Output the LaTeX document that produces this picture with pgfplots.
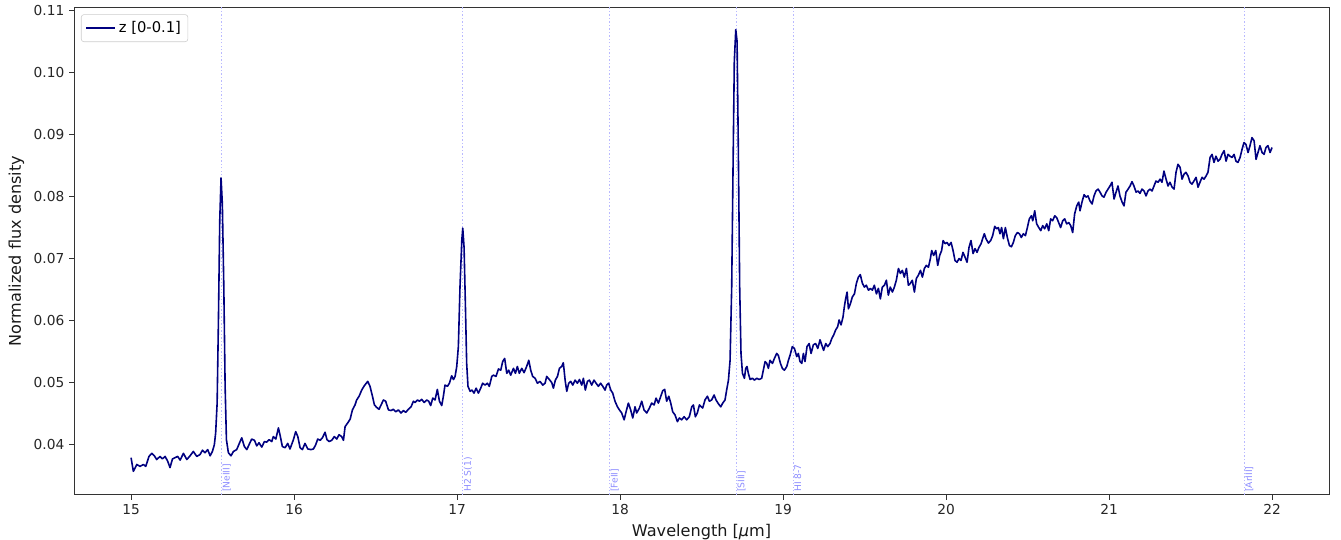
\documentclass[border=0pt]{standalone}
\usepackage{fontspec}
\setmainfont{DejaVu Sans}
\usepackage{pgfplots}
\pgfplotsset{compat=1.18}

\definecolor{specnavy}{RGB}{0,0,128}
\definecolor{featline}{RGB}{185,185,255}
\definecolor{feattext}{RGB}{140,140,255}

\begin{document}
\begin{tikzpicture}
\begin{axis}[
  scale only axis, width=903.6pt, height=351pt,
  xmin=14.65, xmax=22.35, ymin=0.0319, ymax=0.1105,
  xtick={15,16,17,18,19,20,21,22},
  ytick={0.04,0.05,0.06,0.07,0.08,0.09,0.10,0.11},
  scaled y ticks=false,
  yticklabel style={/pgf/number format/.cd, fixed, fixed zerofill, precision=2},
  /pgf/number format/assume math mode=true,
  tick align=outside, tick pos=left,
  major tick length=3.5pt,
  every tick/.style={black!80, line width=0.6pt},
  axis line style={black!80, line width=0.6pt},
  tick label style={font=\fontsize{9.9}{11}\selectfont, black!85},
  label style={font=\fontsize{11.6}{14}\selectfont, black!90},
  xlabel={Wavelength [\textit{μ}m]},
  ylabel={Normalized flux density},
  legend style={at={(0,1)}, anchor=north west, xshift=5pt, yshift=-5pt,
    draw=black!20, rounded corners=2pt, fill=white,
    font=\fontsize{10.6}{12}\selectfont, inner xsep=3pt, inner ysep=3pt},
  legend image code/.code={\draw[#1] (0pt,0pt) -- (21pt,0pt);},
  legend cell align=left,
]

% emission line markers
\addplot[featline, line width=0.7pt, dash pattern=on 1pt off 1.5pt, forget plot] coordinates {(15.555,0.0319) (15.555,0.1105)};
\addplot[featline, line width=0.7pt, dash pattern=on 1pt off 1.5pt, forget plot] coordinates {(17.035,0.0319) (17.035,0.1105)};
\addplot[featline, line width=0.7pt, dash pattern=on 1pt off 1.5pt, forget plot] coordinates {(17.936,0.0319) (17.936,0.1105)};
\addplot[featline, line width=0.7pt, dash pattern=on 1pt off 1.5pt, forget plot] coordinates {(18.713,0.0319) (18.713,0.1105)};
\addplot[featline, line width=0.7pt, dash pattern=on 1pt off 1.5pt, forget plot] coordinates {(19.062,0.0319) (19.062,0.1105)};
\addplot[featline, line width=0.7pt, dash pattern=on 1pt off 1.5pt, forget plot] coordinates {(21.829,0.0319) (21.829,0.1105)};

\addplot[specnavy, line width=1.15pt, line join=round] table {
x y
15.000 0.0379
15.014 0.0357
15.035 0.0368
15.055 0.0365
15.076 0.0368
15.090 0.0365
15.110 0.0381
15.127 0.0386
15.143 0.0382
15.157 0.0376
15.178 0.0381
15.192 0.0377
15.209 0.0381
15.225 0.0373
15.239 0.0363
15.254 0.0377
15.270 0.0379
15.286 0.0381
15.301 0.0375
15.321 0.0386
15.342 0.0376
15.362 0.0382
15.382 0.0389
15.403 0.0381
15.423 0.0384
15.438 0.0391
15.454 0.0387
15.470 0.0392
15.485 0.0382
15.499 0.0389
15.511 0.0400
15.519 0.0419
15.528 0.0467
15.536 0.0601
15.544 0.0761
15.552 0.0830
15.560 0.0788
15.569 0.0654
15.577 0.0494
15.585 0.0408
15.597 0.0387
15.613 0.0382
15.628 0.0389
15.648 0.0392
15.669 0.0405
15.679 0.0411
15.695 0.0397
15.710 0.0392
15.724 0.0400
15.740 0.0409
15.757 0.0407
15.771 0.0398
15.785 0.0403
15.802 0.0396
15.818 0.0405
15.832 0.0404
15.847 0.0408
15.863 0.0405
15.873 0.0413
15.888 0.0409
15.904 0.0427
15.916 0.0413
15.928 0.0397
15.945 0.0395
15.961 0.0402
15.975 0.0393
15.996 0.0408
16.010 0.0421
16.023 0.0413
16.037 0.0395
16.051 0.0392
16.067 0.0402
16.084 0.0393
16.104 0.0392
16.119 0.0393
16.133 0.0400
16.145 0.0409
16.160 0.0407
16.174 0.0411
16.190 0.0420
16.202 0.0408
16.215 0.0405
16.231 0.0407
16.247 0.0413
16.262 0.0409
16.276 0.0416
16.292 0.0413
16.303 0.0407
16.313 0.0429
16.329 0.0435
16.344 0.0441
16.358 0.0456
16.374 0.0464
16.384 0.0472
16.399 0.0478
16.415 0.0488
16.431 0.0495
16.452 0.0502
16.466 0.0494
16.481 0.0478
16.493 0.0464
16.507 0.0460
16.521 0.0457
16.534 0.0464
16.548 0.0472
16.562 0.0470
16.579 0.0456
16.595 0.0455
16.609 0.0457
16.624 0.0453
16.640 0.0456
16.656 0.0451
16.671 0.0455
16.685 0.0452
16.701 0.0457
16.718 0.0461
16.732 0.0470
16.742 0.0468
16.757 0.0472
16.769 0.0470
16.783 0.0473
16.798 0.0468
16.814 0.0472
16.826 0.0470
16.838 0.0463
16.851 0.0475
16.865 0.0472
16.879 0.0489
16.892 0.0470
16.906 0.0463
16.916 0.0478
16.926 0.0496
16.941 0.0494
16.953 0.0499
16.967 0.0511
16.978 0.0505
16.988 0.0510
16.998 0.0526
17.008 0.0558
17.018 0.0654
17.029 0.0729
17.035 0.0749
17.043 0.0718
17.051 0.0627
17.059 0.0531
17.067 0.0494
17.080 0.0486
17.092 0.0488
17.104 0.0483
17.117 0.0491
17.131 0.0483
17.145 0.0491
17.157 0.0499
17.172 0.0496
17.186 0.0499
17.198 0.0494
17.213 0.0510
17.223 0.0512
17.239 0.0510
17.254 0.0522
17.268 0.0520
17.280 0.0534
17.292 0.0539
17.305 0.0515
17.317 0.0520
17.329 0.0512
17.346 0.0523
17.358 0.0515
17.370 0.0526
17.382 0.0515
17.397 0.0523
17.411 0.0516
17.427 0.0526
17.440 0.0536
17.452 0.0520
17.464 0.0510
17.479 0.0507
17.493 0.0499
17.509 0.0502
17.526 0.0496
17.540 0.0499
17.550 0.0510
17.566 0.0505
17.581 0.0500
17.591 0.0491
17.603 0.0504
17.616 0.0510
17.628 0.0523
17.642 0.0526
17.652 0.0532
17.663 0.0504
17.673 0.0486
17.685 0.0499
17.697 0.0502
17.710 0.0496
17.724 0.0504
17.738 0.0499
17.751 0.0505
17.765 0.0496
17.775 0.0507
17.787 0.0488
17.800 0.0502
17.812 0.0504
17.826 0.0496
17.840 0.0504
17.853 0.0499
17.867 0.0494
17.881 0.0499
17.894 0.0494
17.908 0.0488
17.918 0.0496
17.930 0.0499
17.943 0.0488
17.955 0.0483
17.969 0.0470
17.984 0.0461
17.996 0.0456
18.010 0.0451
18.025 0.0440
18.037 0.0453
18.051 0.0467
18.065 0.0456
18.078 0.0443
18.092 0.0461
18.102 0.0451
18.119 0.0459
18.133 0.0470
18.147 0.0456
18.164 0.0451
18.180 0.0459
18.194 0.0467
18.209 0.0464
18.221 0.0475
18.235 0.0467
18.250 0.0478
18.262 0.0487
18.274 0.0489
18.286 0.0470
18.299 0.0478
18.311 0.0467
18.323 0.0453
18.337 0.0448
18.352 0.0437
18.364 0.0443
18.378 0.0440
18.393 0.0445
18.409 0.0440
18.425 0.0445
18.440 0.0461
18.450 0.0464
18.462 0.0445
18.474 0.0451
18.487 0.0464
18.507 0.0459
18.521 0.0472
18.536 0.0478
18.548 0.0470
18.562 0.0472
18.577 0.0480
18.589 0.0472
18.603 0.0466
18.618 0.0461
18.630 0.0467
18.644 0.0472
18.654 0.0488
18.665 0.0504
18.675 0.0536
18.685 0.0654
18.693 0.0841
18.701 0.1018
18.710 0.1069
18.718 0.1050
18.726 0.0868
18.734 0.0654
18.742 0.0547
18.751 0.0515
18.763 0.0507
18.771 0.0523
18.779 0.0526
18.787 0.0515
18.798 0.0505
18.812 0.0507
18.824 0.0504
18.839 0.0507
18.853 0.0505
18.869 0.0507
18.879 0.0520
18.890 0.0534
18.900 0.0531
18.910 0.0523
18.920 0.0536
18.935 0.0531
18.947 0.0539
18.961 0.0547
18.971 0.0544
18.984 0.0531
18.996 0.0523
19.008 0.0520
19.023 0.0526
19.033 0.0536
19.043 0.0544
19.057 0.0558
19.070 0.0555
19.084 0.0542
19.094 0.0547
19.104 0.0534
19.115 0.0531
19.125 0.0547
19.135 0.0534
19.147 0.0558
19.160 0.0563
19.172 0.0547
19.186 0.0561
19.200 0.0563
19.213 0.0555
19.227 0.0569
19.237 0.0561
19.249 0.0552
19.262 0.0563
19.274 0.0558
19.288 0.0563
19.299 0.0571
19.311 0.0577
19.323 0.0585
19.335 0.0590
19.344 0.0601
19.356 0.0593
19.368 0.0606
19.376 0.0622
19.384 0.0635
19.393 0.0646
19.401 0.0619
19.413 0.0627
19.425 0.0638
19.438 0.0643
19.450 0.0660
19.462 0.0670
19.474 0.0674
19.487 0.0660
19.499 0.0654
19.511 0.0657
19.524 0.0649
19.536 0.0652
19.548 0.0649
19.560 0.0657
19.573 0.0643
19.585 0.0652
19.597 0.0635
19.609 0.0654
19.622 0.0657
19.634 0.0665
19.646 0.0641
19.658 0.0654
19.671 0.0646
19.683 0.0654
19.695 0.0665
19.708 0.0684
19.720 0.0676
19.732 0.0681
19.744 0.0670
19.757 0.0684
19.769 0.0657
19.781 0.0660
19.793 0.0665
19.806 0.0646
19.818 0.0668
19.830 0.0673
19.843 0.0681
19.855 0.0670
19.867 0.0684
19.879 0.0689
19.892 0.0686
19.904 0.0700
19.912 0.0713
19.924 0.0705
19.937 0.0713
19.949 0.0689
19.961 0.0705
19.973 0.0713
19.982 0.0729
19.994 0.0724
20.006 0.0726
20.018 0.0721
20.031 0.0726
20.043 0.0713
20.055 0.0697
20.067 0.0694
20.080 0.0700
20.092 0.0697
20.104 0.0710
20.117 0.0702
20.129 0.0694
20.141 0.0718
20.153 0.0729
20.166 0.0708
20.178 0.0716
20.190 0.0710
20.202 0.0718
20.215 0.0724
20.227 0.0734
20.235 0.0740
20.245 0.0732
20.260 0.0725
20.274 0.0729
20.286 0.0737
20.299 0.0752
20.311 0.0748
20.321 0.0750
20.331 0.0740
20.341 0.0750
20.352 0.0732
20.364 0.0750
20.376 0.0734
20.389 0.0721
20.401 0.0719
20.413 0.0726
20.425 0.0737
20.438 0.0742
20.450 0.0740
20.462 0.0734
20.474 0.0740
20.487 0.0737
20.499 0.0750
20.511 0.0764
20.524 0.0769
20.532 0.0761
20.544 0.0777
20.556 0.0756
20.569 0.0750
20.581 0.0745
20.593 0.0753
20.605 0.0748
20.618 0.0756
20.630 0.0745
20.642 0.0764
20.654 0.0761
20.667 0.0769
20.679 0.0766
20.691 0.0758
20.703 0.0750
20.716 0.0761
20.728 0.0764
20.740 0.0756
20.753 0.0758
20.765 0.0753
20.777 0.0742
20.789 0.0772
20.802 0.0785
20.814 0.0791
20.822 0.0777
20.834 0.0791
20.847 0.0803
20.859 0.0799
20.871 0.0801
20.883 0.0793
20.896 0.0788
20.908 0.0801
20.920 0.0809
20.933 0.0812
20.945 0.0807
20.957 0.0801
20.969 0.0799
20.982 0.0807
20.994 0.0812
21.006 0.0817
21.018 0.0823
21.031 0.0796
21.043 0.0807
21.055 0.0817
21.067 0.0801
21.080 0.0791
21.092 0.0785
21.104 0.0807
21.117 0.0812
21.129 0.0817
21.141 0.0824
21.153 0.0817
21.166 0.0807
21.178 0.0809
21.190 0.0805
21.202 0.0812
21.215 0.0809
21.227 0.0801
21.239 0.0809
21.252 0.0812
21.264 0.0809
21.276 0.0817
21.288 0.0825
21.301 0.0823
21.313 0.0828
21.325 0.0823
21.337 0.0841
21.350 0.0828
21.362 0.0817
21.374 0.0823
21.387 0.0815
21.399 0.0812
21.411 0.0839
21.423 0.0852
21.436 0.0847
21.448 0.0828
21.460 0.0836
21.472 0.0839
21.485 0.0833
21.497 0.0823
21.509 0.0820
21.521 0.0825
21.534 0.0831
21.546 0.0815
21.558 0.0823
21.571 0.0831
21.583 0.0828
21.595 0.0833
21.607 0.0839
21.620 0.0863
21.632 0.0868
21.644 0.0855
21.656 0.0865
21.669 0.0857
21.681 0.0860
21.693 0.0868
21.706 0.0874
21.718 0.0857
21.730 0.0868
21.742 0.0865
21.755 0.0863
21.767 0.0868
21.779 0.0857
21.791 0.0855
21.804 0.0863
21.816 0.0876
21.828 0.0887
21.840 0.0884
21.853 0.0871
21.865 0.0882
21.877 0.0895
21.890 0.0890
21.902 0.0860
21.914 0.0871
21.926 0.0882
21.939 0.0871
21.951 0.0868
21.963 0.0879
21.975 0.0882
21.988 0.0871
22.000 0.0879
};
\addlegendentry{z [0-0.1]}

% emission line names
\node[xshift=0.6pt, yshift=2pt, rotate=90, anchor=north west, inner sep=0pt, text=feattext, font=\fontsize{6.6}{7}\selectfont] at (axis cs:15.555,0.0319) {[NeIII]};
\node[xshift=0.6pt, yshift=2pt, rotate=90, anchor=north west, inner sep=0pt, text=feattext, font=\fontsize{6.6}{7}\selectfont] at (axis cs:17.035,0.0319) {H2 S(1)};
\node[xshift=0.6pt, yshift=2pt, rotate=90, anchor=north west, inner sep=0pt, text=feattext, font=\fontsize{6.6}{7}\selectfont] at (axis cs:17.936,0.0319) {[FeII]};
\node[xshift=0.6pt, yshift=2pt, rotate=90, anchor=north west, inner sep=0pt, text=feattext, font=\fontsize{6.6}{7}\selectfont] at (axis cs:18.713,0.0319) {[SIII]};
\node[xshift=0.6pt, yshift=2pt, rotate=90, anchor=north west, inner sep=0pt, text=feattext, font=\fontsize{6.6}{7}\selectfont] at (axis cs:19.062,0.0319) {HI 8-7};
\node[xshift=0.6pt, yshift=2pt, rotate=90, anchor=north west, inner sep=0pt, text=feattext, font=\fontsize{6.6}{7}\selectfont] at (axis cs:21.829,0.0319) {[ArIII]};
\end{axis}
\pgfresetboundingbox
\path[use as bounding box] ([xshift=-53.3pt,yshift=-31.9pt]current axis.south west) rectangle ([xshift=8.6pt,yshift=5.3pt]current axis.north east);
\end{tikzpicture}
\end{document}
